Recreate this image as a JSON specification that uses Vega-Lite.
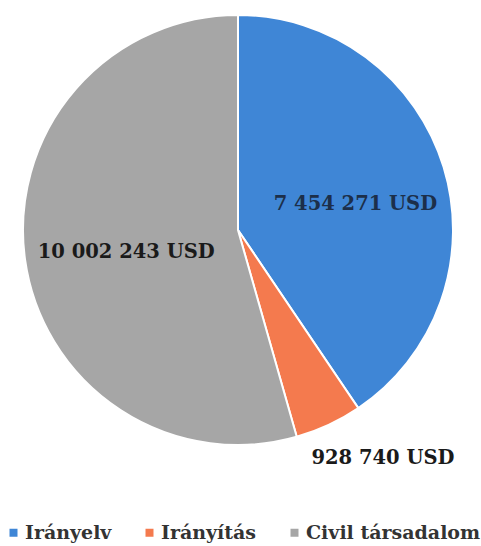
{
  "$schema": "https://vega.github.io/schema/vega-lite/v6.json",
  "width": 476,
  "height": 460,
  "autosize": {"type": "none"},
  "padding": {"left": 0, "top": 0, "right": 5, "bottom": 86},
  "background": "white",
  "data": {
    "values": [
      {"category": "Irányelv", "value": 7454271, "label": "7 454 271 USD", "idx": 1},
      {"category": "Irányítás", "value": 928740, "label": "928 740 USD", "idx": 2},
      {"category": "Civil társadalom", "value": 10002243, "label": "10 002 243 USD", "idx": 3}
    ]
  },
  "encoding": {
    "theta": {"field": "value", "type": "quantitative", "stack": true},
    "order": {"field": "idx", "type": "quantitative"}
  },
  "layer": [
    {
      "mark": {"type": "arc", "outerRadius": 215, "stroke": "white", "strokeWidth": 2},
      "encoding": {
        "color": {
          "field": "category",
          "type": "nominal",
          "scale": {
            "domain": ["Irányelv", "Irányítás", "Civil társadalom"],
            "range": ["#3f86d6", "#f47a4e", "#a6a6a6"]
          },
          "legend": {
            "title": null,
            "orient": "none",
            "direction": "horizontal",
            "legendX": 4,
            "legendY": 523,
            "padding": 0,
            "symbolType": "square",
            "symbolSize": 64,
            "symbolStrokeWidth": 0,
            "labelFont": "DejaVu Serif",
            "labelFontWeight": "bold",
            "labelFontSize": 19,
            "labelColor": "#333333",
            "labelOffset": 2,
            "columnPadding": 28,
            "labelLimit": 300
          }
        }
      }
    },
    {
      "mark": {"type": "text", "radius": 128, "dx": -5, "dy": 11, "font": "DejaVu Serif", "fontWeight": "bold", "fontSize": 19.5, "align": "center", "baseline": "middle", "color": "#1c2f4a"},
      "encoding": {
        "text": {"condition": {"test": "datum.category === 'Irányelv'", "field": "label"}, "value": ""}
      }
    },
    {
      "mark": {"type": "text", "radius": 128, "dx": 15, "dy": 4, "font": "DejaVu Serif", "fontWeight": "bold", "fontSize": 19.5, "align": "center", "baseline": "middle", "color": "#1a1a1a"},
      "encoding": {
        "text": {"condition": {"test": "datum.category === 'Civil társadalom'", "field": "label"}, "value": ""}
      }
    },
    {
      "mark": {"type": "text", "radius": 270, "dx": 31, "dy": -17, "font": "DejaVu Serif", "fontWeight": "bold", "fontSize": 19.5, "align": "center", "baseline": "middle", "color": "#1a1a1a"},
      "encoding": {
        "text": {"condition": {"test": "datum.category === 'Irányítás'", "field": "label"}, "value": ""}
      }
    }
  ]
}
